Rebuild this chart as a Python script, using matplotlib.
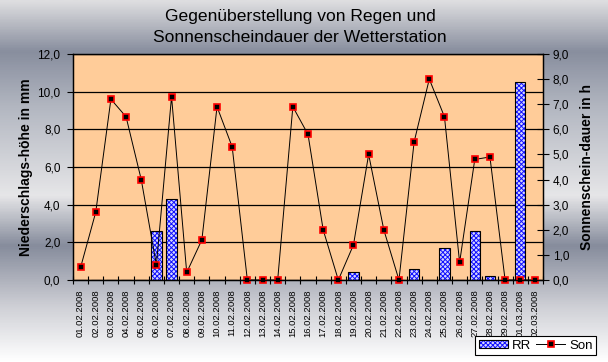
from matplotlib import pyplot as plt
from matplotlib.colors import LinearSegmentedColormap
from matplotlib.patches import Patch
from matplotlib.lines import Line2D
from matplotlib.legend_handler import HandlerTuple
from matplotlib.ticker import FuncFormatter, FixedLocator
import numpy as np

plt.rcParams["font.family"] = ["Liberation Sans", "DejaVu Sans"]
plt.rcParams["hatch.linewidth"] = 0.7

dates = ["01.02.2008", "02.02.2008", "03.02.2008", "04.02.2008", "05.02.2008",
         "06.02.2008", "07.02.2008", "08.02.2008", "09.02.2008", "10.02.2008",
         "11.02.2008", "12.02.2008", "13.02.2008", "14.02.2008", "15.02.2008",
         "16.02.2008", "17.02.2008", "18.02.2008", "19.02.2008", "20.02.2008",
         "21.02.2008", "22.02.2008", "23.02.2008", "24.02.2008", "25.02.2008",
         "26.02.2008", "27.02.2008", "28.02.2008", "29.02.2008", "01.03.2008",
         "02.03.2008"]
# Niederschlag (mm)
rr = [0, 0, 0, 0, 0, 2.6, 4.3, 0, 0, 0,
      0, 0, 0, 0, 0, 0, 0, 0, 0.4, 0,
      0, 0, 0.6, 0, 1.7, 0, 2.6, 0.2, 0, 10.5,
      0]
# Sonnenscheindauer (h)
son = [0.5, 2.7, 7.2, 6.5, 4.0, 0.6, 7.3, 0.3, 1.6, 6.9,
       5.3, 0, 0, 0, 6.9, 5.8, 2.0, 0, 1.4, 5.0,
       2.0, 0, 5.5, 8.0, 6.5, 0.7, 4.8, 4.9, 0, 0,
       0]

comma = FuncFormatter(lambda v, p: "{0:.1f}".format(v).replace(".", ","))

W, H = 608, 362
fig = plt.figure(figsize=(W / 100, H / 100), dpi=100)

# gray background gradient
bg = fig.add_axes([0, 0, 1, 1])
bg.set_axis_off()
stops = [(0.0, "#dedee0"), (0.14, "#888e9e"), (0.30, "#b4b8c2"), (0.54, "#e6e6e8"),
         (0.68, "#868c9c"), (0.85, "#cfd0d6"), (1.0, "#ffffff")]
cmap = LinearSegmentedColormap.from_list("bg", stops)
grad = np.linspace(0, 1, 400).reshape(-1, 1)
bg.imshow(grad, cmap=cmap, aspect="auto", extent=[0, 1, 0, 1])

ax = fig.add_axes([73 / W, 1 - 280 / H, 470 / W, 226 / H])
ax.set_facecolor("#ffcc99")
x = np.arange(len(dates))
ax.bar(x, rr, width=0.68, facecolor="#d4d4ff", edgecolor="#1010ff", hatch="xxxxxxx", linewidth=0, zorder=2)
ax.bar(x, rr, width=0.68, fill=False, edgecolor="black", linewidth=0.8, zorder=3)
ax.set_xlim(-0.5, len(dates) - 0.5)
ax.set_ylim(0, 12)
ax.set_yticks(np.arange(0, 12.1, 2))
ax.yaxis.set_major_formatter(comma)
ax.grid(True, axis="y", color="black", linewidth=0.9)
ax.set_axisbelow(True)
ax.set_xticks(x)
ax.set_xticklabels(dates, rotation=90, fontsize=6.8)
ax.xaxis.set_minor_locator(FixedLocator(np.arange(-0.5, len(dates), 1)))
ax.tick_params(axis="x", which="major", length=0, pad=7)
ax.tick_params(axis="x", which="minor", direction="inout", length=6, width=0.8)
ax.tick_params(axis="y", direction="out", length=4, width=0.8, labelsize=8.5, pad=5)
for s in ax.spines.values():
    s.set_linewidth(0.9)

ax2 = ax.twinx()
ax2.plot(x, son, color="black", linewidth=0.7, marker="s", markersize=5,
         markerfacecolor="black", markeredgecolor="#ff0000", markeredgewidth=1.2, clip_on=False)
ax2.set_ylim(0, 9)
ax2.set_yticks(np.arange(0, 9.1, 1))
ax2.yaxis.set_major_formatter(comma)
ax2.tick_params(axis="y", direction="inout", length=8, width=0.8, labelsize=8.5, pad=3)
for s in ax2.spines.values():
    s.set_linewidth(0.9)

fig.text(300 / W, 1 - 17 / H, "Gegenüberstellung von Regen und", ha="center", va="center", fontsize=12.6)
fig.text(300 / W, 1 - 37 / H, "Sonnenscheindauer der Wetterstation", ha="center", va="center", fontsize=12.6)
fig.text(26 / W, 1 - 167 / H, "Niederschlags-höhe in mm", rotation=90, ha="center", va="center",
         fontsize=10, fontweight="bold")
fig.text(587 / W, 1 - 167 / H, "Sonnenschein-dauer in h", rotation=90, ha="center", va="center",
         fontsize=10, fontweight="bold")

h_rr = (Patch(facecolor="#d4d4ff", edgecolor="#1010ff", hatch="xxxxxxx", linewidth=0),
        Patch(fill=False, edgecolor="black", linewidth=0.8))
h_son = Line2D([], [], color="black", linewidth=0.7, marker="s", markersize=5,
               markerfacecolor="black", markeredgecolor="#ff0000", markeredgewidth=1.2)
leg = fig.legend([h_rr, h_son], ["RR", "Son"], handler_map={tuple: HandlerTuple(ndivide=1)},
                 loc="lower right", bbox_to_anchor=(596 / W, 1 - 355 / H), ncol=2,
                 fontsize=9.5, fancybox=False, framealpha=1, edgecolor="black",
                 borderpad=0.25, handlelength=2.2, handleheight=0.6, handletextpad=0.3,
                 columnspacing=0.4, borderaxespad=0)
leg.get_frame().set_linewidth(0.8)

fig.savefig("out.png", dpi=100)
